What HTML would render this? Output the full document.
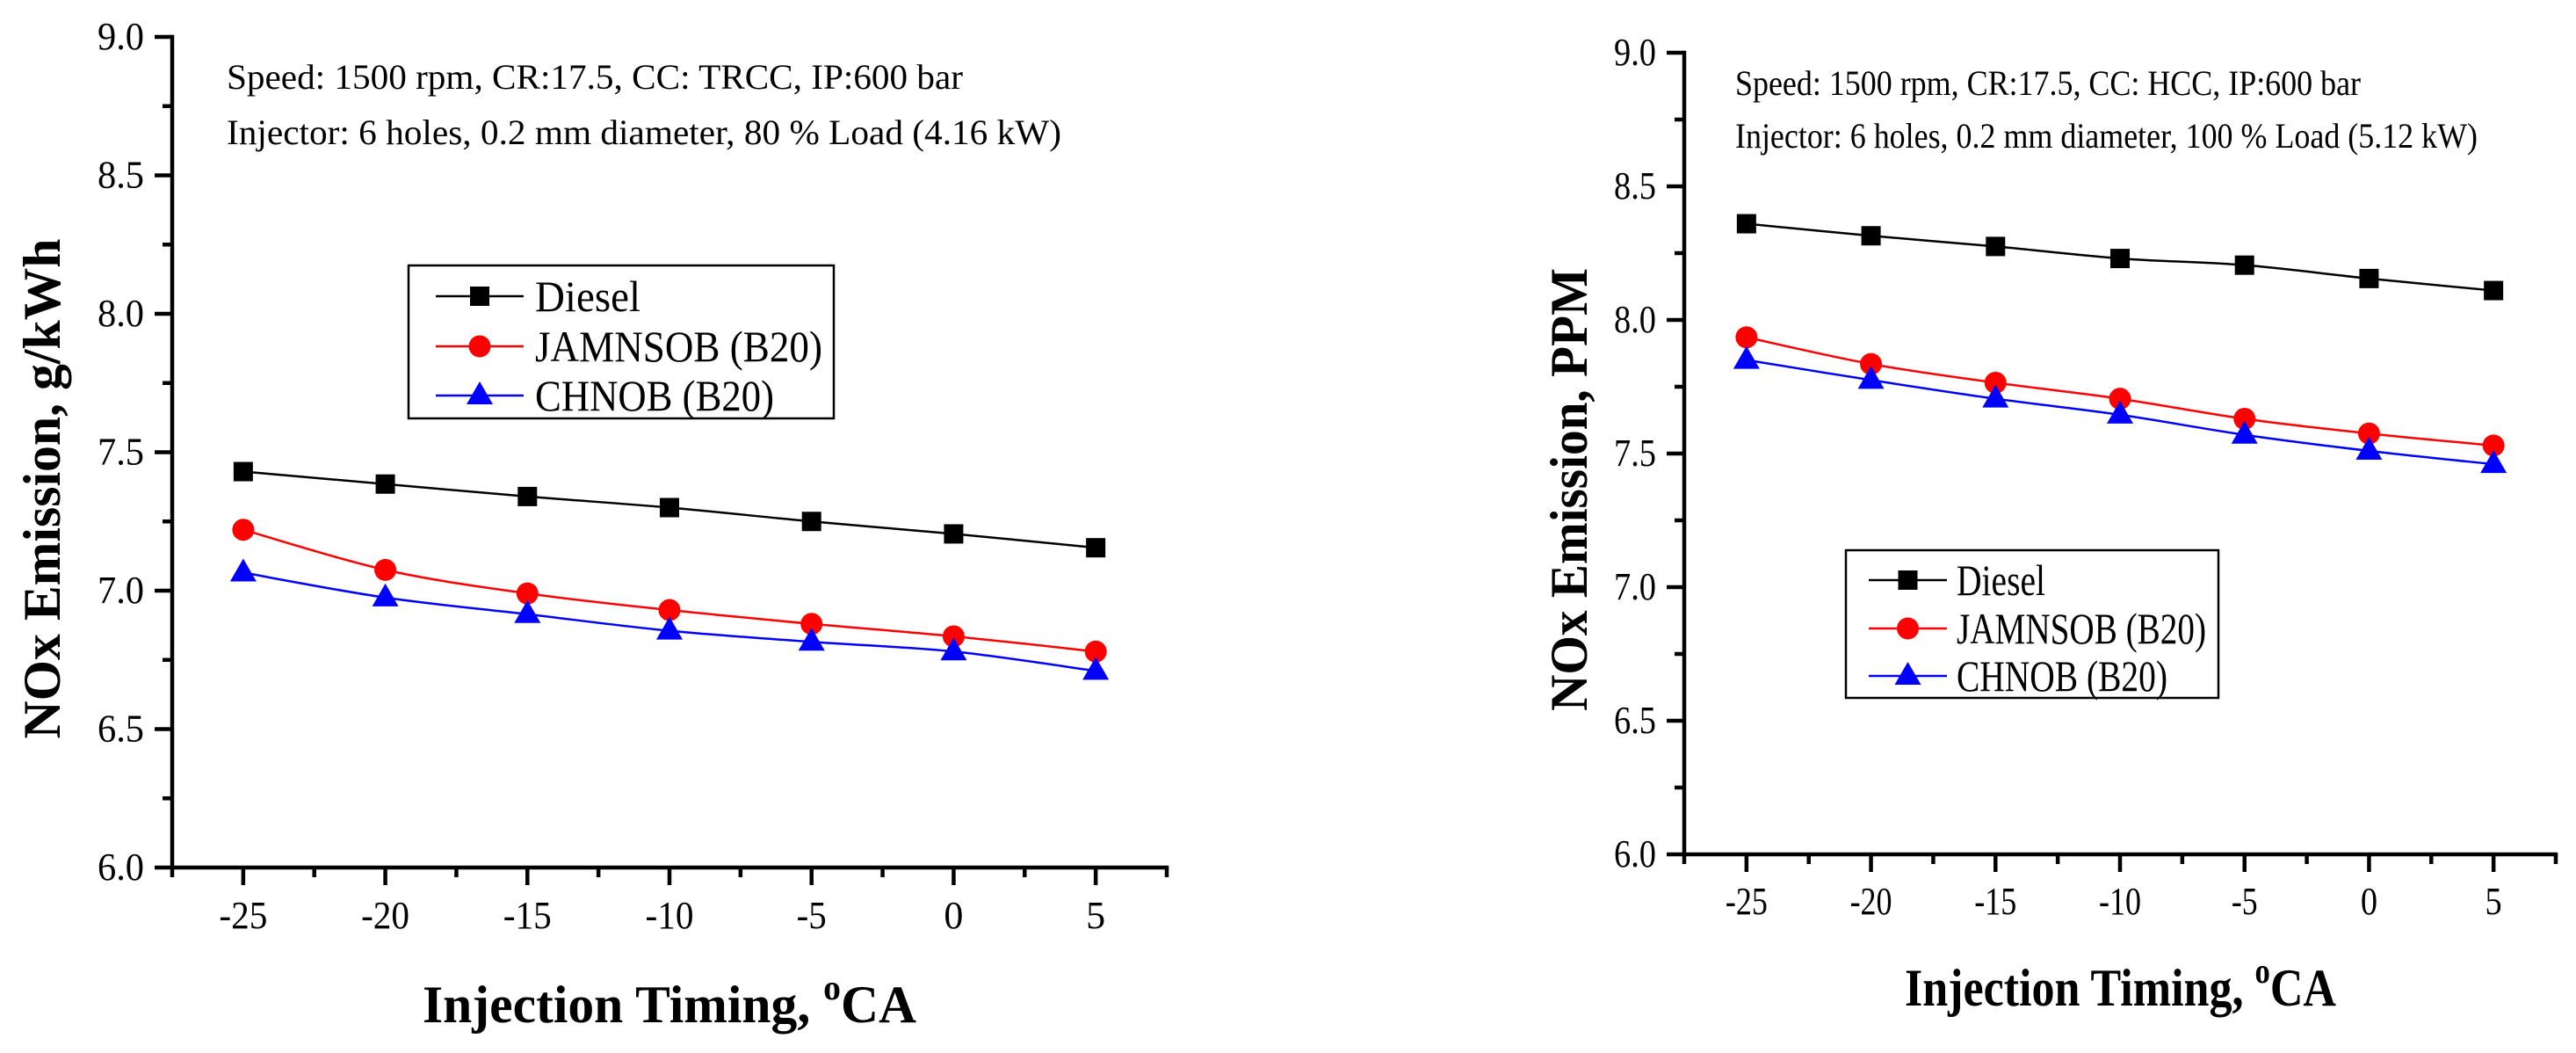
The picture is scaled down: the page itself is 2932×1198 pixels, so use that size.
<!DOCTYPE html>
<html><head><meta charset="utf-8"><style>
html,body{margin:0;padding:0;background:#fff;}
svg{display:block;}
svg text{font-family:"Liberation Serif","Times New Roman",serif;}
</style></head><body>
<svg id="fig" width="2932" height="1198" viewBox="0 0 2932 1198" xmlns="http://www.w3.org/2000/svg" font-family="Liberation Serif, serif"></svg>
<script>
const categories = [-25, -20, -15, -10, -5, 0, 5];
const seriesNames = ["Diesel", "JAMNSOB (B20)", "CHNOB (B20)"];
const leftDiesel = [7.43, 7.385, 7.34, 7.30, 7.25, 7.205, 7.155];
const leftJam = [7.22, 7.075, 6.99, 6.93, 6.88, 6.835, 6.78];
const leftCh = [7.065, 6.975, 6.915, 6.855, 6.815, 6.78, 6.71];
const rightDiesel = [8.36, 8.315, 8.275, 8.23, 8.205, 8.155, 8.11];
const rightJam = [7.935, 7.835, 7.765, 7.705, 7.63, 7.575, 7.53];
const rightCh = [7.85, 7.775, 7.705, 7.645, 7.57, 7.51, 7.46];
const yTickLabels = ["6.0", "6.5", "7.0", "7.5", "8.0", "8.5", "9.0"];
const xTickLabels = ["-25", "-20", "-15", "-10", "-5", "0", "5"];

const NS = "http://www.w3.org/2000/svg";
const svg = document.getElementById("fig");
const FF = "Liberation Serif, Times New Roman, serif";
function mk(tag, attrs, parent) {
  const e = document.createElementNS(NS, tag);
  for (const k in attrs) e.setAttribute(k, attrs[k]);
  if (tag === "text") e.setAttribute("font-family", FF);
  (parent || svg).appendChild(e);
  return e;
}
const colors = ["#000000", "#ff0000", "#0000ff"];

function marker(g, type, cx, cy, col) {
  let m;
  if (type === 0) m = mk("rect", {x: cx - 11, y: cy - 11, width: 22, height: 22, fill: col}, g);
  else if (type === 1) m = mk("circle", {cx: cx, cy: cy, r: 12.5, fill: col}, g);
  else m = mk("polygon", {points: `${cx},${cy - 16} ${cx - 15},${cy + 10} ${cx + 15},${cy + 10}`, fill: col}, g);
  return m;
}

function smoothPath(pts) {
  let d = `M${pts[0][0]},${pts[0][1]}`;
  for (let i = 0; i < pts.length - 1; i++) {
    const p0 = pts[Math.max(0, i - 1)], p1 = pts[i], p2 = pts[i + 1], p3 = pts[Math.min(pts.length - 1, i + 2)];
    const c1 = [p1[0] + (p2[0] - p0[0]) / 6, p1[1] + (p2[1] - p0[1]) / 6];
    const c2 = [p2[0] - (p3[0] - p1[0]) / 6, p2[1] - (p3[1] - p1[1]) / 6];
    d += ` C${c1[0]},${c1[1]} ${c2[0]},${c2[1]} ${p2[0]},${p2[1]}`;
  }
  return d;
}

function drawChart(cfg) {
  const g = mk("g", {});
  
  
  const X = v => cfg.x0 + (v - (-27.5)) / 35 * (cfg.x1 - cfg.x0);
  const Y = v => cfg.y0 - (v - 6) / 3 * (cfg.y0 - cfg.y1);
  const ax = mk("g", {stroke: "#000", "stroke-width": 4.5, fill: "none"}, g);
  
  
  mk("path", {d: `M${cfg.x0},${cfg.y1} V${cfg.y0} H${cfg.x1}`, "stroke-linecap": "square"}, ax);
  for (let i = 0; i <= 12; i++) {
    const v = 6 + i * 0.25, y = Y(v), L = i % 2 === 0 ? 20 : 11;
    mk("line", {x1: cfg.x0 - L, y1: y, x2: cfg.x0, y2: y}, ax);
  }
  for (let i = 0; i <= 14; i++) {
    const v = -27.5 + i * 2.5, x = X(v), L = i % 2 === 1 ? 20 : 11;
    mk("line", {x1: x, y1: cfg.y0, x2: x, y2: cfg.y0 + L}, ax);
  }
  yTickLabels.forEach((t, i) => {
    const e = mk("text", {x: cfg.x0 - 32, y: Y(parseFloat(t)) + 14, "font-size": 44, "text-anchor": "end", textLength: cfg.ytw, lengthAdjust: "spacingAndGlyphs"}, g);
    e.textContent = t;
    
    
  });
  xTickLabels.forEach((t, i) => {
    const w = t.length === 3 ? cfg.xtw : (t.length === 2 ? cfg.xtw * 0.62 : cfg.xtw * 0.4);
    const e = mk("text", {x: X(categories[i]), y: cfg.xlabY, "font-size": 44, "text-anchor": "middle", textLength: w, lengthAdjust: "spacingAndGlyphs"}, g);
    e.textContent = t;
    
    
  });
  cfg.notes.forEach((n, i) => {
    const e = mk("text", {x: cfg.noteX, y: cfg.noteY[i], "font-size": 40, textLength: cfg.noteW[i], lengthAdjust: "spacingAndGlyphs"}, g);
    e.textContent = n;
    
    
  });
  cfg.series.forEach((vals, s) => {
    const sg = mk("g", {}, g);
    
    
    const pts = vals.map((v, i) => [X(categories[i]), Y(v)]);
    mk("path", {d: smoothPath(pts), stroke: colors[s], "stroke-width": 2.5, fill: "none"}, sg);
    pts.forEach(p => {
      const m = marker(sg, s, p[0], p[1], colors[s]);
      
      
    });
  });
  const lg = mk("g", {}, g);
  
  
  const L = cfg.legend;
  mk("rect", {x: L.x, y: L.y, width: L.w, height: L.h, fill: "#fff", stroke: "#000", "stroke-width": 2.5}, lg);
  seriesNames.forEach((nm, s) => {
    const eg = mk("g", {}, lg);
    
    
    const y = L.rows[s];
    mk("line", {x1: L.lx1, y1: y, x2: L.lx2, y2: y, stroke: colors[s], "stroke-width": 2.5}, eg);
    marker(eg, s, (L.lx1 + L.lx2) / 2, y, colors[s]);
    const t = mk("text", {x: L.tx, y: y + 17, "font-size": 50, textLength: L.tw[s], lengthAdjust: "spacingAndGlyphs"}, eg);
    t.textContent = nm;
  });
  const yt = mk("text", {x: 0, y: 0, "font-size": 60, "font-weight": "bold", "text-anchor": "middle", textLength: cfg.yTitleLen, lengthAdjust: "spacingAndGlyphs", transform: `translate(${cfg.yTitleX},${cfg.yTitleY}) rotate(-90)`}, g);
  yt.textContent = cfg.yTitle;
  
  
  const xt = mk("text", {x: cfg.xTitleX, y: cfg.xTitleY, "font-size": 60, "font-weight": "bold", textLength: cfg.xTitleLen, lengthAdjust: "spacingAndGlyphs"}, g);
  
  
  xt.appendChild(document.createTextNode("Injection Timing, "));
  const sup = mk("tspan", {"font-size": 40, dy: -26}, xt);
  sup.textContent = "o";
  const ca = mk("tspan", {dy: 26}, xt);
  ca.textContent = "CA";
}

drawChart({
  name: "left-chart", x0: 196, x1: 1328, y0: 987, y1: 42, xlabY: 1056, ytw: 53, xtw: 55,
  notes: ["Speed: 1500 rpm, CR:17.5, CC: TRCC, IP:600 bar", "Injector: 6 holes, 0.2 mm diameter, 80 % Load (4.16 kW)"],
  noteX: 258, noteY: [101, 164], noteW: [838, 950],
  series: [leftDiesel, leftJam, leftCh],
  legend: {x: 465, y: 302, w: 484, h: 174, rows: [337, 394, 450], lx1: 496, lx2: 596, tx: 609, tw: [120, 327, 272]},
  yTitle: "NOx Emission, g/kWh", yTitleX: 68, yTitleY: 556, yTitleLen: 569,
  xTitleX: 481, xTitleY: 1163, xTitleLen: 562
});
drawChart({
  name: "right-chart", x0: 1917, x1: 2909, y0: 972, y1: 60, xlabY: 1040, ytw: 48, xtw: 48,
  notes: ["Speed: 1500 rpm, CR:17.5, CC: HCC, IP:600 bar", "Injector: 6 holes, 0.2 mm diameter, 100 % Load (5.12 kW)"],
  noteX: 1975, noteY: [108, 168], noteW: [712, 845],
  series: [rightDiesel, rightJam, rightCh],
  legend: {x: 2101, y: 626, w: 424, h: 168, rows: [660, 715, 769], lx1: 2127, lx2: 2216, tx: 2227, tw: [101, 284, 240]},
  yTitle: "NOx Emission, PPM", yTitleX: 1806, yTitleY: 557, yTitleLen: 504,
  xTitleX: 2168, xTitleY: 1144, xTitleLen: 491
});
</script>
</body></html>
